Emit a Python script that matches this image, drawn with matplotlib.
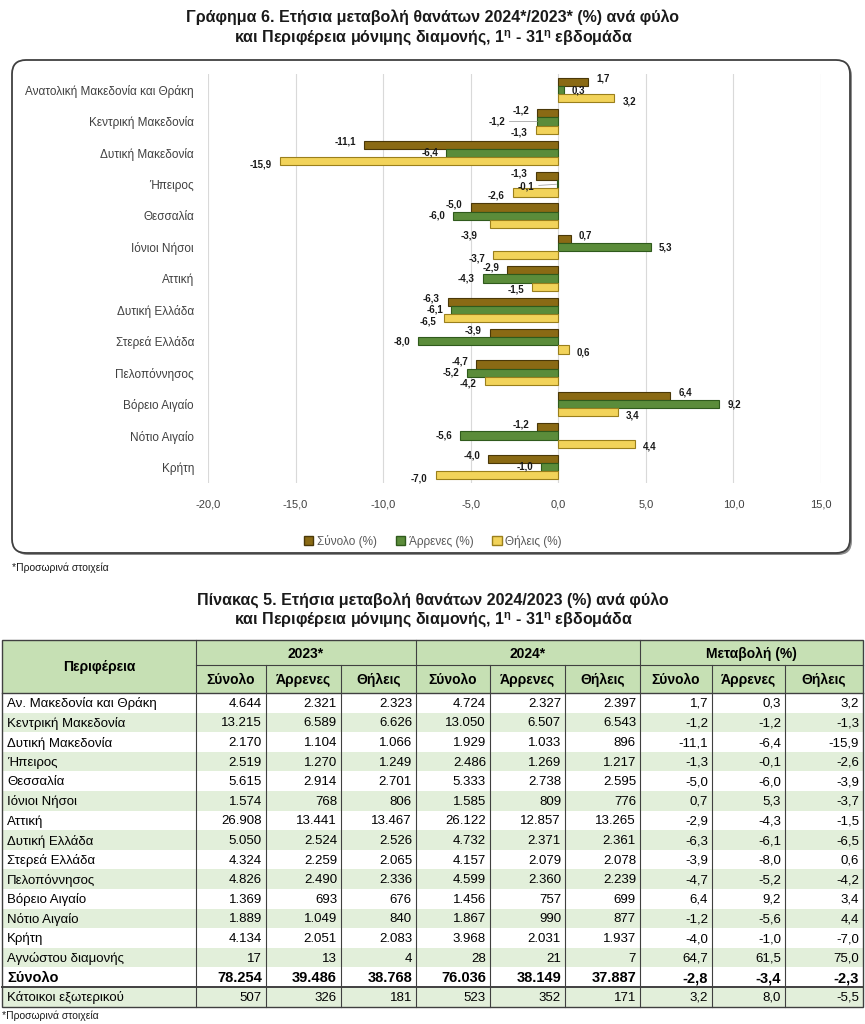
import numpy as np
import matplotlib
matplotlib.use('Agg')
import matplotlib.pyplot as plt
from matplotlib import font_manager
from matplotlib.patches import Rectangle, FancyBboxPatch, Patch

# pick a narrow font if it is there
names = {f.name for f in font_manager.fontManager.ttflist}
narrow = 'Liberation Sans Narrow' if 'Liberation Sans Narrow' in names else 'Liberation Sans'
plt.rcParams['font.family'] = [narrow, 'DejaVu Sans']
plt.rcParams['mathtext.fontset'] = 'custom'
plt.rcParams['mathtext.rm'] = narrow
plt.rcParams['mathtext.bf'] = narrow + ':bold'

# chart data (annual change %, weeks 1-31)
chart_regions = ['Ανατολική Μακεδονία και Θράκη', 'Κεντρική Μακεδονία', 'Δυτική Μακεδονία',
                 'Ήπειρος', 'Θεσσαλία', 'Ιόνιοι Νήσοι', 'Αττική', 'Δυτική Ελλάδα',
                 'Στερεά Ελλάδα', 'Πελοπόννησος', 'Βόρειο Αιγαίο', 'Νότιο Αιγαίο', 'Κρήτη']
synolo_pct = [1.7, -1.2, -11.1, -1.3, -5.0, 0.7, -2.9, -6.3, -3.9, -4.7, 6.4, -1.2, -4.0]
arrenes_pct = [0.3, -1.2, -6.4, -0.1, -6.0, 5.3, -4.3, -6.1, -8.0, -5.2, 9.2, -5.6, -1.0]
thileis_pct = [3.2, -1.3, -15.9, -2.6, -3.9, -3.7, -1.5, -6.5, 0.6, -4.2, 3.4, 4.4, -7.0]
series_names = ['Σύνολο (%)', 'Άρρενες (%)', 'Θήλεις (%)']

# table data
table_regions = ['Αν. Μακεδονία και Θράκη', 'Κεντρική Μακεδονία', 'Δυτική Μακεδονία', 'Ήπειρος',
                 'Θεσσαλία', 'Ιόνιοι Νήσοι', 'Αττική', 'Δυτική Ελλάδα', 'Στερεά Ελλάδα',
                 'Πελοπόννησος', 'Βόρειο Αιγαίο', 'Νότιο Αιγαίο', 'Κρήτη', 'Αγνώστου διαμονής',
                 'Σύνολο', 'Κάτοικοι εξωτερικού']
tot_2023 = [4644, 13215, 2170, 2519, 5615, 1574, 26908, 5050, 4324, 4826, 1369, 1889, 4134, 17, 78254, 507]
men_2023 = [2321, 6589, 1104, 1270, 2914, 768, 13441, 2524, 2259, 2490, 693, 1049, 2051, 13, 39486, 326]
wom_2023 = [2323, 6626, 1066, 1249, 2701, 806, 13467, 2526, 2065, 2336, 676, 840, 2083, 4, 38768, 181]
tot_2024 = [4724, 13050, 1929, 2486, 5333, 1585, 26122, 4732, 4157, 4599, 1456, 1867, 3968, 28, 76036, 523]
men_2024 = [2327, 6507, 1033, 1269, 2738, 809, 12857, 2371, 2079, 2360, 757, 990, 2031, 21, 38149, 352]
wom_2024 = [2397, 6543, 896, 1217, 2595, 776, 13265, 2361, 2078, 2239, 699, 877, 1937, 7, 37887, 171]
chg_tot = synolo_pct + [64.7, -2.8, 3.2]
chg_men = arrenes_pct + [61.5, -3.4, 8.0]
chg_wom = thileis_pct + [75.0, -2.3, -5.5]


def gr_int(v):
    return f'{v:,}'.replace(',', '.')


def gr_dec(v):
    return f'{v:.1f}'.replace('.', ',')


W, H = 865, 1024
fig = plt.figure(figsize=(W / 100, H / 100), dpi=100)

# background axes in pixel coordinates (box, titles, table)
bg = fig.add_axes([0, 0, 1, 1])
bg.set_xlim(0, W)
bg.set_ylim(H, 0)
bg.axis('off')

dark = '#1a1a1a'
sub_line = 'και Περιφέρεια μόνιμης διαμονής, 1$^{\\mathbf{η}}$ - 31$^{\\mathbf{η}}$ εβδομάδα'
bg.text(433, 17, 'Γράφημα 6. Ετήσια μεταβολή θανάτων 2024*/2023* (%) ανά φύλο',
        ha='center', va='center', fontsize=11.5, fontweight='bold', color=dark)
bg.text(433, 38, sub_line, ha='center', va='center', fontsize=11.5, fontweight='bold', color=dark)

# chart frame with a light shadow
bg.add_patch(FancyBboxPatch((14, 62), 838, 493, boxstyle='round,pad=0,rounding_size=14',
                            fc='#8c8c8c', ec='none'))
bg.add_patch(FancyBboxPatch((12, 60), 838, 493, boxstyle='round,pad=0,rounding_size=14',
                            fc='white', ec='#404040', lw=1.3))
bg.text(12, 568, '*Προσωρινά στοιχεία', ha='left', va='center', fontsize=7.5, color=dark)

# ---- bar chart ----
ax = fig.add_axes([208 / W, 1 - 482.7 / H, (821 - 208) / W, (482.7 - 74.3) / H])
ax.patch.set_alpha(0)
y = np.arange(len(chart_regions))
bh = 0.26
colors = ['#8a6a14', '#5b8c3a', '#f2d35a']
edges = ['#4a3808', '#2f5a1c', '#9a7f1c']
spread = [3, 0, -3]  # labels fanned out vertically (pixels)
# labels moved by hand in the original (region, series): (dx, dy) pixels
moved = {(1, 1): (-32, 0), (3, 1): (-22, -2), (4, 2): (-12, -12)}
for k, vals in enumerate([synolo_pct, arrenes_pct, thileis_pct]):
    yy = y + (k - 1) * bh
    ax.barh(yy, vals, height=bh, color=colors[k], edgecolor=edges[k], lw=0.8,
            label=series_names[k])
    for i, (yi, v) in enumerate(zip(yy, vals)):
        dx, dy = (8 if v >= 0 else -8), spread[k]
        arrow = None
        if (i, k) in moved:
            dx, dy = moved[(i, k)]
            if k == 1:
                arrow = dict(arrowstyle='-', color='#a6a6a6', lw=0.6, shrinkA=1, shrinkB=0)
        ax.annotate(gr_dec(v), (v, yi), textcoords='offset pixels', xytext=(dx, dy),
                    ha='left' if v >= 0 else 'right', va='center', fontsize=7,
                    fontweight='bold', color=dark, arrowprops=arrow)

ax.set_xlim(-20, 15)
ax.set_ylim(len(chart_regions) - 0.5, -0.5)
ticks = np.arange(-20, 16, 5)
ax.set_xticks(ticks)
ax.set_xticklabels([gr_dec(t) for t in ticks], fontsize=8, color='#404040')
ax.set_yticks(y)
ax.set_yticklabels(chart_regions, fontsize=8.5, color='#404040')
ax.tick_params(length=0)
ax.tick_params(axis='y', pad=10)
ax.tick_params(axis='x', pad=12)
ax.xaxis.grid(True, color='#d9d9d9', lw=0.8)
ax.set_axisbelow(True)
for s in ax.spines.values():
    s.set_visible(False)

handles = [Patch(facecolor=colors[k], edgecolor=edges[k], label=series_names[k]) for k in range(3)]
fig.legend(handles=handles, loc='center', bbox_to_anchor=(433 / W, 1 - 541 / H), ncol=3,
           frameon=False, fontsize=8.5, labelcolor='#595959', handlelength=0.8,
           handleheight=0.8, handletextpad=0.3, columnspacing=1.6)

# ---- table ----
bg.text(433, 600, 'Πίνακας 5. Ετήσια μεταβολή θανάτων 2024/2023 (%) ανά φύλο',
        ha='center', va='center', fontsize=11.5, fontweight='bold', color=dark)
bg.text(433, 620, sub_line, ha='center', va='center', fontsize=11.5, fontweight='bold', color=dark)

col_x = [2, 196, 266, 341, 416, 490, 565, 640, 712, 785, 863]
top, mid, hdr_bot = 640, 665, 693
row_h = 19.6
n = len(table_regions)
bottom = hdr_bot + n * row_h
head_green = '#c6e0b4'
row_green = '#e2efda'
line_c = '#404040'

bg.add_patch(Rectangle((col_x[0], top), col_x[-1] - col_x[0], hdr_bot - top, fc=head_green, ec='none'))
for i in range(n):
    if i % 2 == 1:
        bg.add_patch(Rectangle((col_x[0], hdr_bot + i * row_h), col_x[-1] - col_x[0], row_h,
                               fc=row_green, ec='none'))

# header text
bg.text((col_x[0] + col_x[1]) / 2, (top + hdr_bot) / 2, 'Περιφέρεια', ha='center', va='center',
        fontsize=10, fontweight='bold', color='black')
groups = ['2023*', '2024*', 'Μεταβολή (%)']
subs = ['Σύνολο', 'Άρρενες', 'Θήλεις']
for g in range(3):
    x0, x1 = col_x[1 + 3 * g], col_x[4 + 3 * g]
    bg.text((x0 + x1) / 2, (top + mid) / 2 + 1, groups[g], ha='center', va='center',
            fontsize=10, fontweight='bold', color='black')
    for s in range(3):
        c0, c1 = col_x[1 + 3 * g + s], col_x[2 + 3 * g + s]
        bg.text((c0 + c1) / 2, (mid + hdr_bot) / 2 + 1, subs[s], ha='center', va='center',
                fontsize=10, fontweight='bold', color='black')

# body text
columns = [tot_2023, men_2023, wom_2023, tot_2024, men_2024, wom_2024, chg_tot, chg_men, chg_wom]
for i in range(n):
    yc = hdr_bot + (i + 0.5) * row_h + 1
    bold = table_regions[i] == 'Σύνολο'
    fw = 'bold' if bold else 'normal'
    fs = 10.5 if bold else 9.5
    bg.text(col_x[0] + 5, yc, table_regions[i], ha='left', va='center', fontsize=fs,
            fontweight=fw, color='black')
    for c, col in enumerate(columns):
        txt = gr_int(col[i]) if c < 6 else gr_dec(col[i])
        bg.text(col_x[c + 2] - 4, yc, txt, ha='right', va='center', fontsize=fs,
                fontweight=fw, color='black')

# grid lines
bg.add_patch(Rectangle((col_x[0], top), col_x[-1] - col_x[0], bottom - top, fc='none', ec=line_c, lw=1.0))
bg.plot([col_x[1], col_x[-1]], [mid, mid], color=line_c, lw=0.8)
bg.plot([col_x[0], col_x[-1]], [hdr_bot, hdr_bot], color=line_c, lw=1.0)
for k, xv in enumerate(col_x[1:-1], start=1):
    y0 = top if k in (1, 4, 7) else mid
    bg.plot([xv, xv], [y0, bottom], color=line_c, lw=0.8)
last_top = hdr_bot + (n - 1) * row_h
bg.plot([col_x[0], col_x[-1]], [last_top, last_top], color=line_c, lw=1.4)

bg.text(2, 1016, '*Προσωρινά στοιχεία', ha='left', va='center', fontsize=7.5, color=dark)

fig.savefig('out.png', dpi=100)
